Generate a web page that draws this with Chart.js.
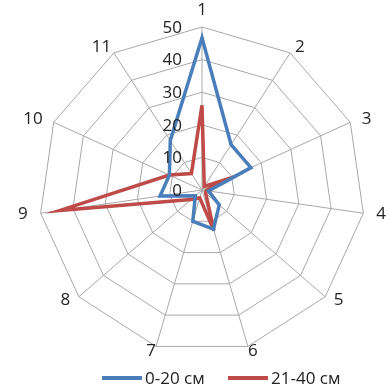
<!DOCTYPE html>
<html>
<head>
<meta charset="utf-8">
<script src="https://cdn.jsdelivr.net/npm/chart.js@4"></script>
<style>
  html, body { margin: 0; padding: 0; background: #fff; }
  #wrap { position: relative; width: 390px; height: 389px; }
  #legend { position: absolute; left: 0; top: 368px; width: 390px; height: 20px;
            font: 17px 'Open Sans', 'Liberation Sans', sans-serif; color: #222; }
  .item { position: absolute; top: 0; line-height: 20px; white-space: nowrap; }
  .swatch { position: absolute; top: 8px; width: 40px; height: 4px; }
</style>
</head>
<body>
<div id="wrap">
  <canvas id="radar"></canvas>
  <div id="legend"></div>
</div>
<script>
// categories and values
let categories = ['1', '2', '3', '4', '5', '6', '7', '8', '9', '10', '11']
let depth0to20 = [46.7, 16.5, 16.5, 2, 7, 12.5, 10, 2.7, 13, 11, 18]
let depth21to40 = [26, 1.3, 7.2, 1.3, 1.5, 13, 2.5, 4.5, 44, 11, 6]
let tickValues = [0, 10, 20, 30, 40, 50]
let seriesNames = ['0-20 см', '21-40 см']
let seriesColors = ['#4a7ebb', '#be4b48']

let fontName = "'Open Sans', 'Liberation Sans', sans-serif"

// tick numbers left of the first axis and the category numbers round the web
let radarText = {
  id: 'radarText',
  afterDatasetsDraw(chart) {
    let scale = chart.scales.r
    let ctx = chart.ctx
    ctx.save()
    ctx.font = '17px ' + fontName
    ctx.fillStyle = '#222'
    ctx.textBaseline = 'middle'

    ctx.textAlign = 'right'
    tickValues.forEach(function (v) {
      let p = scale.getPointPositionForValue(0, v)
      ctx.fillText(String(v), p.x - 20, p.y + 1)
    })

    ctx.textAlign = 'center'
    categories.forEach(function (label, i) {
      let p = scale.getPointPosition(i, scale.drawingArea)
      let a = p.angle
      let w = ctx.measureText(label).width
      let cos = Math.cos(a)
      let sin = Math.sin(a)
      let x = p.x + cos * (13 + w / 2)
      let y = p.y + sin * (sin > 0 ? 5 : 7) + (sin < -0.95 ? -10 : 0)
      ctx.fillText(label, x, y)
    })
    ctx.restore()
  }
}

new Chart(document.getElementById('radar'), {
  type: 'radar',
  data: {
    labels: categories,
    datasets: [
      {
        label: seriesNames[0],
        data: depth0to20,
        borderColor: seriesColors[0],
        backgroundColor: seriesColors[0],
        borderWidth: 3.5,
        fill: false,
        pointRadius: 0
      },
      {
        label: seriesNames[1],
        data: depth21to40,
        borderColor: seriesColors[1],
        backgroundColor: seriesColors[1],
        borderWidth: 3.5,
        fill: false,
        pointRadius: 0
      }
    ]
  },
  options: {
    responsive: true,
    maintainAspectRatio: false,
    animation: false,
    layout: { padding: { top: 27, bottom: 36, left: 30, right: 15 } },
    plugins: {
      legend: { display: false },
      tooltip: { enabled: false }
    },
    scales: {
      r: {
        min: 0,
        max: 50,
        ticks: { stepSize: 10, display: false },
        grid: { circular: false, color: '#a8a8a8', lineWidth: 1 },
        angleLines: { color: '#a8a8a8', lineWidth: 1 },
        pointLabels: { display: false }
      }
    }
  },
  plugins: [radarText]
})

// legend under the web, line swatches like the original
let legendBox = document.getElementById('legend')
let legendLeft = [102, 228]
seriesNames.forEach(function (name, i) {
  let item = document.createElement('div')
  item.className = 'item'
  item.style.left = legendLeft[i] + 'px'
  item.innerHTML = '<span class="swatch" style="left:0;background:' + seriesColors[i] + '"></span>' +
    '<span style="padding-left:43px">' + name + '</span>'
  legendBox.appendChild(item)
})
</script>
</body>
</html>
